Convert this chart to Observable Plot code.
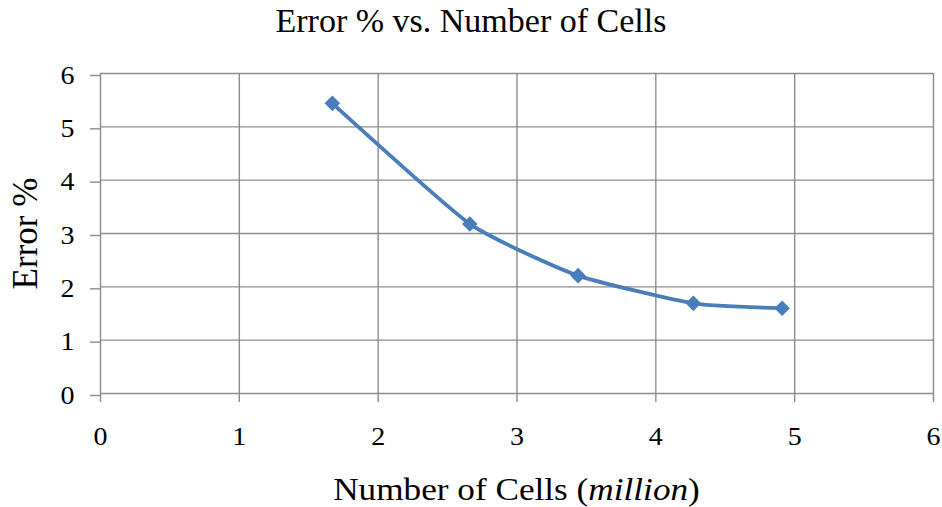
<!DOCTYPE html>
<html><head><meta charset="utf-8">
<script src="https://cdn.jsdelivr.net/npm/d3@7"></script>
<script src="https://cdn.jsdelivr.net/npm/@observablehq/plot@0.6"></script>
<style>
body{margin:0;background:#fff;}
#wrap{position:relative;width:942px;height:507px;font-family:"Liberation Serif","Times New Roman",serif;color:#000;}
#title{position:absolute;left:0;width:942px;top:4px;text-align:center;font-size:34px;line-height:34px;white-space:nowrap;}
#xlabel{position:absolute;left:100px;width:833px;top:472px;text-align:center;font-size:32px;line-height:34px;white-space:nowrap;transform:scaleX(1.1);transform-origin:50% 50%;}
</style></head><body>
<div id="wrap"><div id="chart"></div><div id="title">Error % vs. Number of Cells</div><div id="xlabel">Number of Cells (<i>million</i>)</div></div>
<script>
const cells = [1.67, 2.66, 3.44, 4.27, 4.91];
const errorPct = [5.44, 3.18, 2.21, 1.69, 1.60];
const xTicks = [0, 1, 2, 3, 4, 5, 6];
const yTicks = [0, 1, 2, 3, 4, 5, 6];
const yLabel = ["Error %"];
const data = cells.map((c, i) => ({cells: c, error: errorPct[i]}));
const serif = '"Liberation Serif","Times New Roman",serif';
const gridColor = "#8c8c8c";
const plot = Plot.plot({
  width: 942, height: 507,
  marginTop: 73, marginLeft: 100, marginRight: 9, marginBottom: 114,
  style: {fontFamily: serif, fontSize: "25px", color: "#000", background: "#fff", overflow: "visible"},
  x: {domain: [0, 6], label: null},
  y: {domain: [0, 6], label: null},
  marks: [
    Plot.gridX(xTicks, {stroke: gridColor, strokeOpacity: 1, strokeWidth: 1.4}),
    Plot.gridY(yTicks, {stroke: gridColor, strokeOpacity: 1, strokeWidth: 1.4}),
    Plot.axisX(xTicks, {tickSize: 9, tickPadding: 25, tickFormat: "d", stroke: gridColor, strokeWidth: 1.4, fill: "#000", label: null}),
    Plot.axisY(yTicks, {tickSize: 10, tickPadding: 16, tickFormat: "d", dy: 2, stroke: gridColor, strokeWidth: 1.4, fill: "#000", label: null}),
    Plot.line(data, {x: "cells", y: "error", stroke: "#4a7ebb", strokeWidth: 3.8, curve: "cardinal", tension: 0.5}),
    Plot.dot(data, {x: "cells", y: "error", symbol: "diamond2", r: 7, fill: "#4a7ebb", stroke: "none"}),
    Plot.text(yLabel, {frameAnchor: "left", textAnchor: "middle", text: d => d, rotate: -90, dx: -75, dy: 0, fontSize: 35, fill: "#000"})
  ]
});
d3.select(plot).selectAll("g[aria-label='x-axis tick label'] text, g[aria-label='y-axis tick label'] text")
  .attr("transform", function() { return (this.getAttribute("transform") || "") + " scale(1.12,1)"; });
document.getElementById("chart").appendChild(plot);
</script>
</body></html>
